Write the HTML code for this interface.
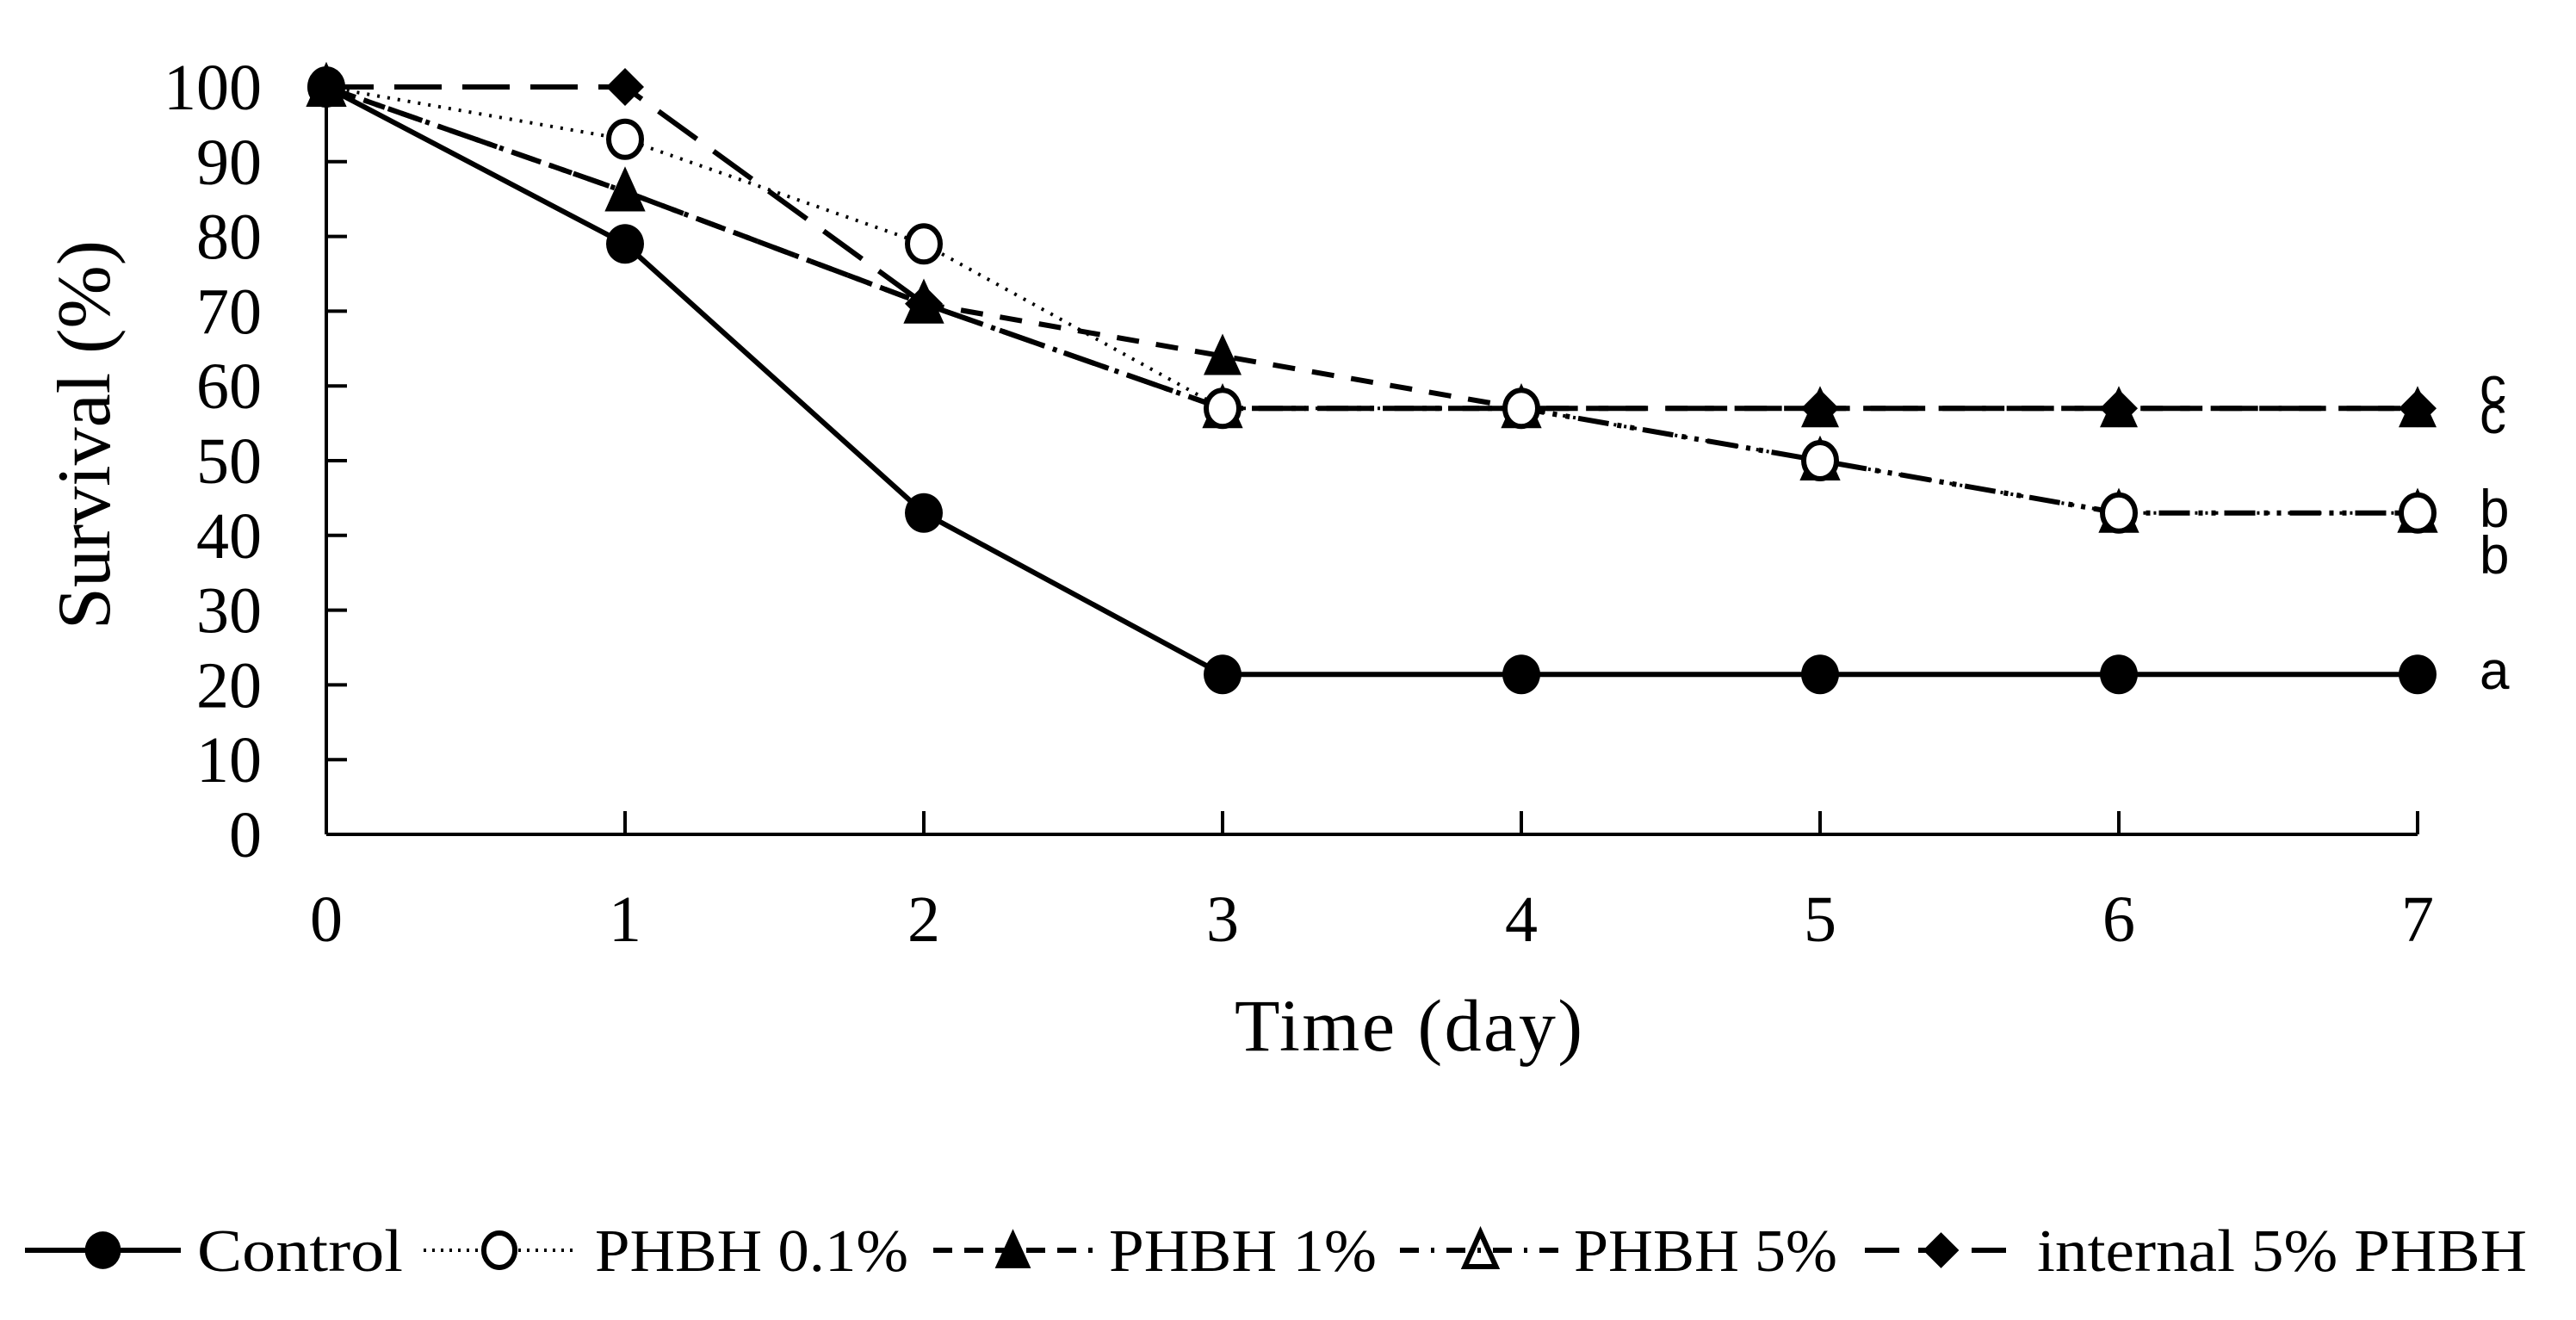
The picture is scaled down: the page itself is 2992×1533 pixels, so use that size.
<!DOCTYPE html>
<html><head><meta charset="utf-8"><style>
html,body{margin:0;padding:0;background:#fff;}
svg{display:block;font-family:"Liberation Serif",serif;}
</style></head><body>
<svg id="chart" width="2992" height="1533" viewBox="0 0 2992 1533" xmlns="http://www.w3.org/2000/svg">
<g id="axes"></g>
<g id="series"></g>
<g id="legend"></g>
</svg>
<script>
const days = [0,1,2,3,4,5,6,7];
const yTicks = [0,10,20,30,40,50,60,70,80,90,100];
const control = [100,79,43,21.4,21.4,21.4,21.4,21.4];
const phbh01 = [100,93,79,57,57,50,43,43];
const phbh1 = [100,86,71,64,57,57,57,57];
const phbh5 = [100,86,71,57,57,50,43,43];
const internal5 = [100,100,71,57,57,57,57,57];
const seriesNames = ["Control","PHBH 0.1%","PHBH 1%","PHBH 5%","internal 5% PHBH"];
const sigLetters = [["c",57],["c",57],["b",43],["b",43],["a",21.4]];

const NS="http://www.w3.org/2000/svg";
const X0=379, XSTEP=347, Y0=969, YTOP=101;
function xs(d){return X0+d*XSTEP;}
function ys(v){return Y0-(v/100)*(Y0-YTOP);}
function mk(tag,attrs,parent){const e=document.createElementNS(NS,tag);for(const k in attrs)e.setAttribute(k,attrs[k]);parent.appendChild(e);return e;}

const axes=document.getElementById('axes');
let l=mk('line',{x1:X0,y1:Y0,x2:xs(7),y2:Y0,stroke:'#000','stroke-width':4},axes);


l=mk('line',{x1:X0,y1:Y0,x2:X0,y2:YTOP,stroke:'#000','stroke-width':4},axes);


days.forEach(d=>{
  if(d>0){const t=mk('line',{x1:xs(d),y1:Y0,x2:xs(d),y2:Y0-27,stroke:'#000','stroke-width':4},axes);
  
  }
  const tx=mk('text',{x:xs(d),y:1093,'font-size':76,'text-anchor':'middle'},axes);
  tx.textContent=d;
  
  
});
yTicks.forEach(v=>{
  if(v>0&&v<100){const t=mk('line',{x1:X0,y1:ys(v),x2:X0+24,y2:ys(v),stroke:'#000','stroke-width':4},axes);
  
  }
  const tx=mk('text',{x:304,y:ys(v)+26,'font-size':76,'text-anchor':'end'},axes);
  tx.textContent=v;
  
  
});
let tt=mk('text',{x:1636,y:1220,'font-size':86,'text-anchor':'middle',textLength:404},axes);
tt.textContent='Time (day)';


tt=mk('text',{x:0,y:0,'font-size':88,'text-anchor':'middle',transform:'translate(127,505) rotate(-90)'},axes);
tt.textContent='Survival (%)';



const dashes=["none","3,9","26,20","36,10,5,10,5,10","55,24"];
const data=[control,phbh01,phbh1,phbh5,internal5];
function marker(i,cx,cy,parent,s){
  s=s||1;let e;
  if(i===0) e=mk('ellipse',{cx:cx,cy:cy,rx:22*s,ry:23*s,fill:'#000'},parent);
  else if(i===1) e=mk('ellipse',{cx:cx,cy:cy,rx:19*s,ry:21*s,fill:'#fff',stroke:'#000','stroke-width':6},parent);
  else if(i===2) e=mk('polygon',{points:`${cx},${cy-26*s} ${cx+22*s},${cy+22*s} ${cx-22*s},${cy+22*s}`,fill:'#000'},parent);
  else if(i===3) e=mk('polygon',{points:`${cx},${cy-22*s} ${cx+19*s},${cy+20*s} ${cx-19*s},${cy+20*s}`,fill:'none',stroke:'#000','stroke-width':6},parent);
  else e=mk('polygon',{points:`${cx},${cy-22*s} ${cx+22*s},${cy} ${cx},${cy+22*s} ${cx-22*s},${cy}`,fill:'#000'},parent);
  return e;
}
const sg=document.getElementById('series');
const order=[4,2,3,1,0];
order.forEach(i=>{
  const pts=data[i].map((v,k)=>xs(days[k])+','+ys(v)).join(' ');
  const pl=mk('polyline',{points:pts,fill:'none',stroke:'#000','stroke-width':i===1?4:6,'stroke-dasharray':dashes[i]},sg);
  
  
});
order.forEach(i=>{
  data[i].forEach((v,k)=>{
    const m=marker(i,xs(days[k]),ys(v),sg);
    
    
  });
});
const letterY=[470,503,612,666,800];
sigLetters.forEach((s,j)=>{
  const t=mk('text',{x:2880,y:letterY[j],'font-family':'Liberation Sans, sans-serif','font-size':62},sg);
  t.textContent=s[0];
  
  
});

const lg=document.getElementById('legend');
const LY=1452;
const lineX=[[29,210],[492,668],[1084,1269],[1626,1813],[2166,2343]];
const textX=[[229,239],[691,364],[1288,311],[1828,306],[2366,569]];
const legDash=["none","3,7","22,14","22,14,4,14","40,22"];
seriesNames.forEach((n,i)=>{
  const g=mk('g',{},lg);
  
  
  mk('line',{x1:lineX[i][0],y1:LY,x2:lineX[i][1],y2:LY,stroke:'#000','stroke-width':i===1?4:6,'stroke-dasharray':legDash[i]},g);
  marker(i,(lineX[i][0]+lineX[i][1])/2,LY,g,0.95);
  const t=mk('text',{x:textX[i][0],y:LY+24,'font-size':70,textLength:textX[i][1],lengthAdjust:'spacingAndGlyphs'},g);
  t.textContent=n;
  
  
});
</script>
</body></html>
